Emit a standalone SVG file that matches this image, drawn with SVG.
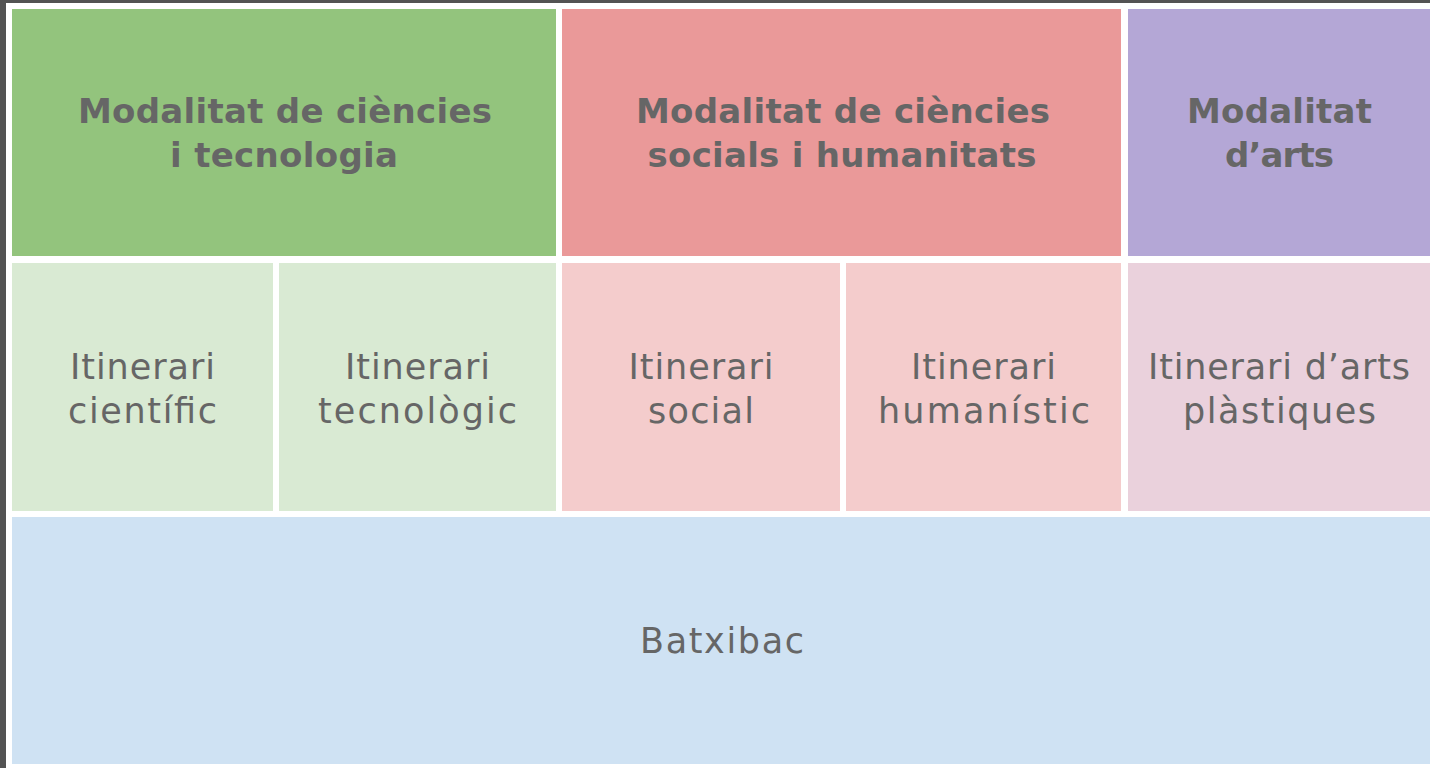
<svg xmlns="http://www.w3.org/2000/svg" width="1430" height="768" viewBox="0 0 1430 768">
<style>
.t{font-family:"DejaVu Sans","Liberation Sans",sans-serif;fill:#666666;text-anchor:middle}
.b{font-size:34px;font-weight:700}
.r{font-size:35px;font-weight:400}
</style>
<rect x="0" y="0" width="1430" height="768" fill="#535353"/>
<rect x="6" y="3" width="1424" height="765" fill="#ffffff"/>
<g id="mod-ciencies">
<rect x="12" y="9" width="544" height="247" fill="#93c47d"/>
<text class="t b" x="285" y="123" textLength="414" lengthAdjust="spacing">Modalitat de ciències</text>
<text class="t b" x="284" y="167" textLength="228" lengthAdjust="spacing">i tecnologia</text>
</g>
<g id="mod-socials">
<rect x="562" y="9" width="559" height="247" fill="#ea9999"/>
<text class="t b" x="843" y="123" textLength="414" lengthAdjust="spacing">Modalitat de ciències</text>
<text class="t b" x="842" y="167" textLength="389" lengthAdjust="spacing">socials i humanitats</text>
</g>
<g id="mod-arts">
<rect x="1128" y="9" width="302" height="247" fill="#b4a7d6"/>
<text class="t b" x="1279.5" y="123" textLength="185" lengthAdjust="spacing">Modalitat</text>
<text class="t b" x="1279.5" y="167" textLength="109" lengthAdjust="spacing">d’arts</text>
</g>
<g id="it-cientific">
<rect x="12" y="263" width="261" height="248" fill="#d9ead3"/>
<text class="t r" x="142.5" y="379" textLength="145" lengthAdjust="spacing">Itinerari</text>
<text class="t r" x="142.5" y="423" textLength="149" lengthAdjust="spacing">científic</text>
</g>
<g id="it-tecnologic">
<rect x="279" y="263" width="277" height="248" fill="#d9ead3"/>
<text class="t r" x="417.5" y="379" textLength="145" lengthAdjust="spacing">Itinerari</text>
<text class="t r" x="417.5" y="423" textLength="199" lengthAdjust="spacing">tecnològic</text>
</g>
<g id="it-social">
<rect x="562" y="263" width="278" height="248" fill="#f4cccc"/>
<text class="t r" x="701" y="379" textLength="145" lengthAdjust="spacing">Itinerari</text>
<text class="t r" x="701" y="423" textLength="106" lengthAdjust="spacing">social</text>
</g>
<g id="it-humanistic">
<rect x="846" y="263" width="275" height="248" fill="#f4cccc"/>
<text class="t r" x="983.5" y="379" textLength="145" lengthAdjust="spacing">Itinerari</text>
<text class="t r" x="984" y="423" textLength="212" lengthAdjust="spacing">humanístic</text>
</g>
<g id="it-arts">
<rect x="1128" y="263" width="302" height="248" fill="#ead1dc"/>
<text class="t r" x="1279" y="379" textLength="262" lengthAdjust="spacing">Itinerari d’arts</text>
<text class="t r" x="1279.5" y="423" textLength="193" lengthAdjust="spacing">plàstiques</text>
</g>
<g id="batxibac">
<rect x="12" y="517" width="1418" height="247" fill="#cfe2f3"/>
<text class="t r" x="722" y="653" textLength="164" lengthAdjust="spacing">Batxibac</text>
</g>
<g id="connectors"></g>
</svg>
